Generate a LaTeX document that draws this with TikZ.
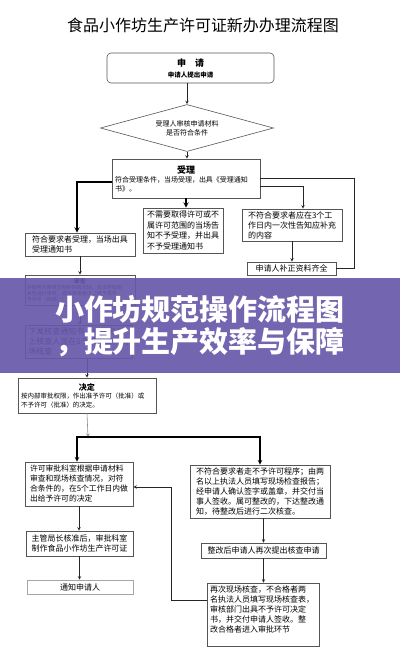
\documentclass[tikz,border=0pt]{standalone}
\usepackage{fontspec}
\setmainfont{Noto Sans CJK SC}
\definecolor{bannerpurple}{RGB}{104,88,170}
\definecolor{edgegray}{RGB}{85,85,85}
\usetikzlibrary{positioning,shapes.geometric,arrows,calc}

\begin{document}
\begin{tikzpicture}[x=1pt,y=-1pt,>=stealth,
    box/.style={draw=edgegray,rectangle,inner sep=2pt,align=left,line width=0.6pt,font=\fontsize{8}{10}\selectfont},
    flow/.style={->,draw=black!85,line width=0.6pt},
    heavy/.style={->,line width=1.4pt}]
    \useasboundingbox (0,0) rectangle (400,654);
    \node[font=\fontsize{16}{18}\selectfont] (title) at (203,25) {食品小作坊生产许可证新办办理流程图};

    % top of the flow
    \node[box,rounded corners=4pt,align=center,minimum width=167,minimum height=30] (apply) at (190.5,68)
        {{\fontsize{9}{11}\selectfont\bfseries 申\quad 请}\\[1pt]{\fontsize{6.5}{8}\selectfont\bfseries 申请人提出申请}};
    \node[diamond,draw=edgegray,line width=0.6pt,aspect=3.68,inner sep=0pt,minimum width=173,minimum height=47,
        align=center,font=\fontsize{7}{9}\selectfont] (check) at (187,128) {受理人审核申请材料\\是否符合条件};
    \node[box,minimum width=148,minimum height=39,font=\fontsize{7}{9}\selectfont] (accept) at (186,178.5)
        {\makebox[142pt][c]{\fontsize{9}{11}\selectfont\bfseries 受理}\\符合受理条件，当场受理，出具《受理通知\\书》。};
    \node[box,minimum width=110,minimum height=23] (yes) at (80,244.5) {符合要求者受理，当场出具\\受理通知书};
    \node[box,minimum width=80,minimum height=45,font=\fontsize{8}{10.5}\selectfont] (reject) at (183,230.5)
        {不需要取得许可或不\\属许可范围的当场告\\知不予受理，并出具\\不予受理通知书};
    \node[box,minimum width=100,minimum height=32] (notify) at (292,225) {不符合要求者应在3个工\\作日内一次性告知应补充\\的内容};
    \node[box,minimum width=89,minimum height=13,inner sep=1pt] (supply) at (291.5,268.5) {申请人补正资料齐全};

    % review and inspection
    \node[box,minimum width=110,minimum height=30,inner sep=1pt,font=\fontsize{5}{6}\selectfont] (review) at (80,290)
        {\makebox[106pt][c]{\fontsize{6}{7}\selectfont\bfseries 审查}\\对服务对象提交材料的真实性、合法性和相\\关性进行审核，提出审查意见（准予或不\\予许可（批准））};
    \node[box,minimum width=107,minimum height=33] (inspect) at (78.5,341.5) {下发核查通知书，由两名以\\上核查人员在5个工作日内现\\场核查};
    \node[box,minimum width=138,minimum height=35,font=\fontsize{6.5}{8.5}\selectfont] (decide) at (87,395.5)
        {\makebox[132pt][c]{\fontsize{8}{10}\selectfont\bfseries 决定}\\按内部审批权限，作出准予许可（批准）或\\不予许可（批准）的决定。};
    \coordinate (split) at (88,437);

    % decision branches
    \node[box,minimum width=108,minimum height=44,font=\fontsize{7.8}{10}\selectfont] (grant) at (79,484)
        {许可审批科室根据申请材料\\审查和现场核查情况，对符\\合条件的，在5个工作日内做\\出给予许可的决定};
    \node[box,minimum width=140,minimum height=53] (deny) at (260,491.5)
        {不符合要求者走不予许可程序；由两\\名以上执法人员填写现场检查报告；\\经申请人确认签字或盖章，并交付当\\事人签收。属可整改的，下达整改通\\知，待整改后进行二次核查。};
    \node[box,minimum width=125,minimum height=15,inner sep=1pt] (resubmit) at (263.5,550.5) {整改后申请人再次提出核查申请};
    \node[box,inner sep=3pt] (recheck) at (263,614.5)
        {\parbox[c][57pt][t]{106pt}{再次现场核查，不合格者两\\名执法人员填写现场核查表，\\审核部门出具不予许可决定\\书，并交付申请人签收。整\\改合格者进入审批环节}};
    \node[box,minimum width=107,minimum height=25] (approve) at (79.5,543.5) {主管局长核准后，审批科室\\制作食品小作坊生产许可证};
    \node[box,draw=black!35,align=center,minimum width=106,minimum height=14,inner sep=1pt] (inform) at (80,587) {通知申请人};

    % connectors
    \draw[flow] (check.north |- apply.south) -- (check.north);
    \draw[flow] (check.south) -- (check.south |- accept.north);
    \draw[heavy] ([yshift=-3.5]accept.west) -| ([xshift=-3]yes.north);
    \draw[heavy] (accept.south) -- (accept.south |- reject.north);
    \draw[flow] ([yshift=-7.5]accept.east) -| ([xshift=11]notify.north);
    \draw[flow] (notify.south) -- (notify.south |- supply.north);
    \draw[draw=black!85,line width=0.6pt] (supply.east) -- ++(18,0) |- ([yshift=0.5]accept.east);
    \draw[flow] (yes.south) -- (yes.south |- review.north);
    \draw[flow] (review.south) -- (review.south |- inspect.north);
    \draw[flow] (decide.north |- inspect.south) -- (decide.north);
    \draw[flow,draw=black!45] (decide.south) -- (split);
    \draw[heavy,line width=1.1pt] (split) -| ([xshift=-2]grant.north);
    \draw[heavy,line width=1.1pt] (split) -| (deny.north);
    \draw[flow] (resubmit.north |- deny.south) -- (resubmit.north);
    \draw[flow] (resubmit.south) -- (resubmit.south |- recheck.north);
    \draw[flow] ([yshift=14.5]recheck.west) -- ++(-35,0) |- ([yshift=-3]grant.east);
    \draw[flow] (grant.south) -- (grant.south |- approve.north);
    \draw[flow] (approve.south) -- (approve.south |- inform.north);

    % overlay banner
    \fill[bannerpurple,fill opacity=0.92] (0,278) rectangle (400,373);
    \node[text=white,font=\fontsize{29}{32}\selectfont\bfseries,align=center] (headline) at (200,326)
        {小作坊规范操作流程图\\，提升生产效率与保障};
\end{tikzpicture}
\end{document}
